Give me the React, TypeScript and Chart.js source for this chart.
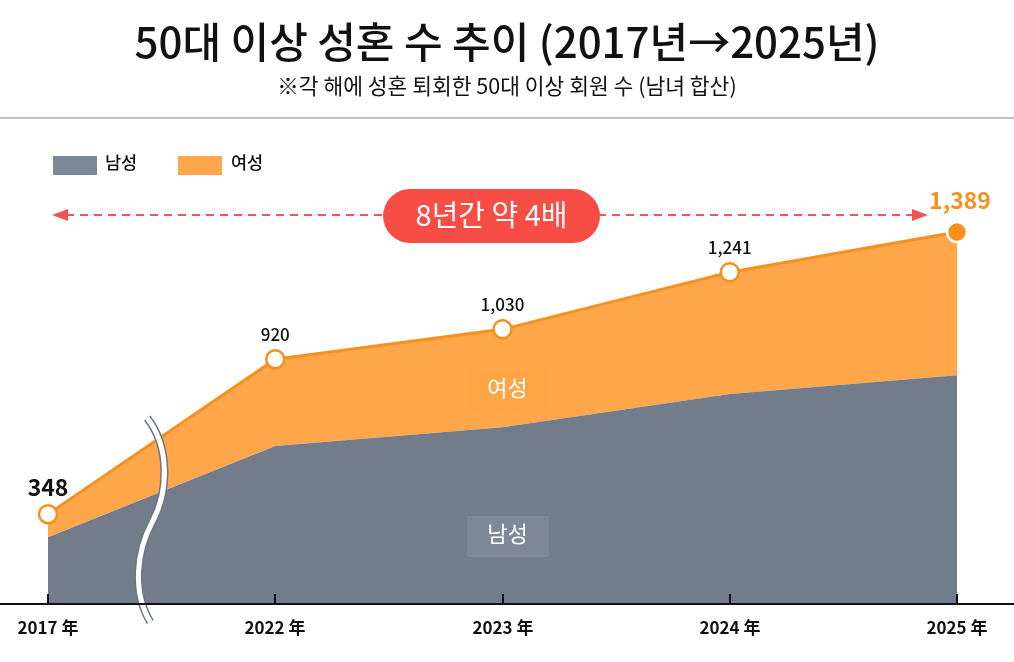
import React, { useEffect, useRef } from "react";
import { Chart, registerables } from "chart.js";

Chart.register(...registerables);

// Years on the x axis
const years = ["2017", "2022", "2023", "2024", "2025"];
const yearLabels = ["2017 年", "2022 年", "2023 年", "2024 年", "2025 年"];
// Yearly totals (men + women)
const totals = [348, 920, 1030, 1241, 1389];
const totalLabels = ["348", "920", "1,030", "1,241", "1,389"];
// Men per year
const men = [263, 599, 669, 791, 861];
// Women per year (the remainder of each total)
const women = totals.map((t, i) => t - men[i]);

const TITLE = "50대 이상 성혼 수 추이 (2017년→2025년)";
const SUBTITLE = "※각 해에 성혼 퇴회한 50대 이상 회원 수 (남녀 합산)";
const GROWTH_NOTE = "8년간 약 4배";

const FONT = '"Noto Sans CJK KR", "Noto Sans", sans-serif';
const GRAY = "#737C8B";
const GRAY_LIGHT = "#7F8899";
const ORANGE_FILL = "#FFA74A";
const ORANGE_LINE = "#F7901E";
const RED = "#F84D45";

const decorations = {
  id: "decorations",
  beforeDraw(chart: any) {
    const ctx = chart.ctx;
    ctx.save();
    ctx.fillStyle = "#ffffff";
    ctx.fillRect(0, 0, chart.width, chart.height);

    // Title & subtitle
    ctx.fillStyle = "#111111";
    ctx.textAlign = "center";
    ctx.textBaseline = "middle";
    ctx.font = `500 42px ${FONT}`;
    ctx.fillText(TITLE, chart.width / 2, 42);
    ctx.font = `400 21.5px ${FONT}`;
    ctx.fillText(SUBTITLE, chart.width / 2, 86);

    // Header rule
    ctx.fillStyle = "#BCC1C9";
    ctx.fillRect(0, 117, chart.width, 2);

    // Legend
    ctx.fillStyle = GRAY_LIGHT;
    ctx.fillRect(53, 156, 44, 19);
    ctx.fillStyle = ORANGE_FILL;
    ctx.fillRect(178, 156, 44, 19);
    ctx.fillStyle = "#111111";
    ctx.textAlign = "left";
    ctx.font = `500 17.5px ${FONT}`;
    ctx.fillText("남성", 105, 162);
    ctx.fillText("여성", 231, 162);
    ctx.restore();
  },
  afterDatasetsDraw(chart: any) {
    const ctx = chart.ctx;
    const xs = chart.scales.x;
    const ys = chart.scales.y;
    const area = chart.chartArea;
    ctx.save();

    // Axis break between 2017 and 2022
    const bx = xs.getPixelForValue(0) + (xs.getPixelForValue(1) - xs.getPixelForValue(0)) * 0.45;
    const path = () => {
      ctx.beginPath();
      ctx.moveTo(bx - 3, 418);
      ctx.bezierCurveTo(bx + 20, 448, bx + 18, 492, bx + 2, 522);
      ctx.bezierCurveTo(bx - 14, 552, bx - 18, 592, bx, 622);
    };
    ctx.lineCap = "butt";
    path();
    ctx.strokeStyle = "#6E7685";
    ctx.lineWidth = 8;
    ctx.stroke();
    path();
    ctx.strokeStyle = "#ffffff";
    ctx.lineWidth = 5;
    ctx.stroke();

    // Baseline and ticks
    ctx.fillStyle = "#111111";
    ctx.fillRect(0, area.bottom, chart.width, 2);
    ctx.textAlign = "center";
    ctx.textBaseline = "middle";
    ctx.font = `700 17px ${FONT}`;
    years.forEach((_, i) => {
      const x = Math.round(xs.getPixelForValue(i));
      ctx.fillRect(x - 1, area.bottom - 9, 2, 10);
      ctx.fillText(yearLabels[i], x, 628);
    });

    // Area labels
    const lx = xs.getPixelForValue(2) + 5;
    ctx.fillStyle = "#FEA546";
    ctx.fillRect(lx - 40, 370, 80, 40);
    ctx.fillStyle = "#ffffff";
    ctx.font = `400 22px ${FONT}`;
    ctx.fillText("여성", lx, 388);
    ctx.fillStyle = GRAY_LIGHT;
    ctx.fillRect(lx - 40, 516, 81, 41);
    ctx.fillStyle = "#ffffff";
    ctx.fillText("남성", lx, 534);

    // Growth arrow
    const ay = 215;
    ctx.strokeStyle = "#F0564C";
    ctx.lineWidth = 2;
    ctx.setLineDash([8, 6]);
    ctx.beginPath();
    ctx.moveTo(66, ay);
    ctx.lineTo(912, ay);
    ctx.stroke();
    ctx.setLineDash([]);
    ctx.fillStyle = "#F0564C";
    ctx.beginPath();
    ctx.moveTo(52, ay);
    ctx.lineTo(68, ay - 6);
    ctx.lineTo(68, ay + 6);
    ctx.closePath();
    ctx.fill();
    ctx.beginPath();
    ctx.moveTo(928, ay);
    ctx.lineTo(912, ay - 6);
    ctx.lineTo(912, ay + 6);
    ctx.closePath();
    ctx.fill();

    // Pill
    const px = 383, py = 189, pw = 217, ph = 54, r = 27;
    ctx.fillStyle = RED;
    ctx.beginPath();
    ctx.moveTo(px + r, py);
    ctx.lineTo(px + pw - r, py);
    ctx.arc(px + pw - r, py + r, r, -Math.PI / 2, Math.PI / 2);
    ctx.lineTo(px + r, py + ph);
    ctx.arc(px + r, py + r, r, Math.PI / 2, (3 * Math.PI) / 2);
    ctx.closePath();
    ctx.fill();
    ctx.fillStyle = "#ffffff";
    ctx.font = `400 29px ${FONT}`;
    ctx.fillText(GROWTH_NOTE, px + pw / 2, py + ph / 2 - 1);

    // Total value labels
    totals.forEach((t, i) => {
      const x = xs.getPixelForValue(i);
      const y = ys.getPixelForValue(t);
      if (i === 0) {
        ctx.fillStyle = "#111111";
        ctx.font = `700 23px ${FONT}`;
        ctx.fillText(totalLabels[i], x, y - 27);
      } else if (i === totals.length - 1) {
        ctx.fillStyle = ORANGE_LINE;
        ctx.font = `700 23px ${FONT}`;
        ctx.fillText(totalLabels[i], x + 3, y - 32);
      } else {
        ctx.fillStyle = "#111111";
        ctx.font = `500 17px ${FONT}`;
        ctx.fillText(totalLabels[i], x, y - 25);
      }
    });
    ctx.restore();
  },
};

export default function App() {
  const ref = useRef<HTMLCanvasElement | null>(null);

  useEffect(() => {
    document.body.style.margin = "0";
    const canvas = ref.current;
    if (!canvas) return;
    const last = totals.length - 1;
    const chart = new Chart(canvas, {
      type: "line",
      data: {
        labels: years,
        datasets: [
          {
            label: "남성",
            data: men,
            backgroundColor: GRAY,
            borderWidth: 0,
            pointRadius: 0,
            fill: "start",
            tension: 0,
          },
          {
            label: "여성",
            data: women,
            backgroundColor: ORANGE_FILL,
            borderColor: ORANGE_LINE,
            borderWidth: 3,
            fill: "-1",
            tension: 0,
            pointRadius: totals.map((_, i) => (i === last ? 10 : 9)),
            pointBackgroundColor: totals.map((_, i) => (i === last ? ORANGE_LINE : "#ffffff")),
            pointBorderColor: totals.map((_, i) => (i === last ? "#ffffff" : ORANGE_LINE)),
            pointBorderWidth: 2.5,
            clip: false as any,
          },
        ],
      },
      options: {
        responsive: false,
        animation: false,
        devicePixelRatio: 1,
        layout: { padding: { left: 48, right: 57, top: 202, bottom: 59 } },
        plugins: {
          legend: { display: false },
          title: { display: false },
          tooltip: { enabled: false },
        },
        scales: {
          x: { type: "category", display: false, offset: false },
          y: { display: false, stacked: true, min: 20, max: 1500 },
        },
      },
      plugins: [decorations],
    });
    return () => chart.destroy();
  }, []);

  return (
    <div style={{ width: 1014, height: 662 }}>
      <canvas ref={ref} width={1014} height={662} style={{ display: "block" }} />
    </div>
  );
}
